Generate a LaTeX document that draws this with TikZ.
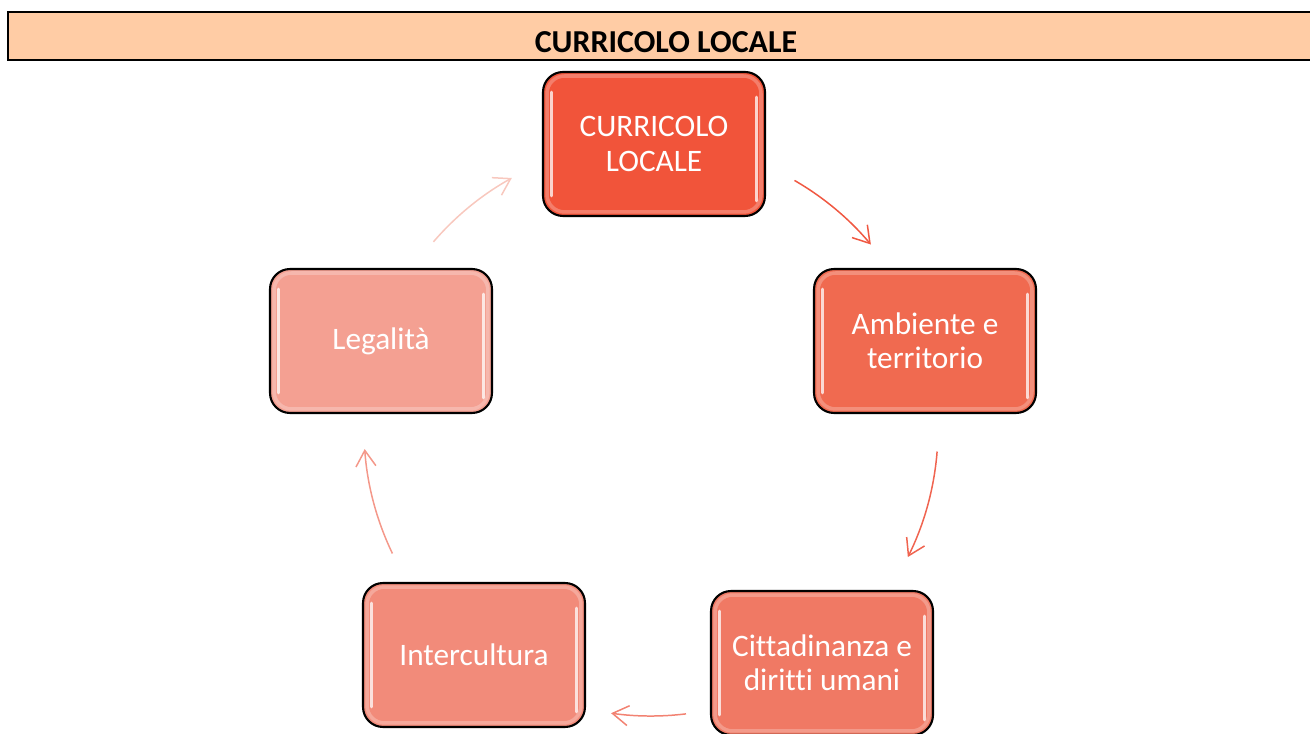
\documentclass[tikz,border=0pt]{standalone}
\usepackage{fontspec}
\setmainfont{Carlito}[Ligatures=NoCommon]
\usetikzlibrary{arrows.meta}

\definecolor{testata}{RGB}{255,204,165}
\definecolor{fase1}{RGB}{241,84,58}
\definecolor{fase2}{RGB}{240,106,80}
\definecolor{fase3}{RGB}{240,121,100}
\definecolor{fase4}{RGB}{242,139,122}
\definecolor{fase5}{RGB}{244,160,146}
\definecolor{giro1}{RGB}{240,88,66}
\definecolor{giro2}{RGB}{240,100,80}
\definecolor{giro3}{RGB}{242,130,114}
\definecolor{giro4}{RGB}{244,152,138}
\definecolor{giro5}{RGB}{248,200,190}

\begin{document}
\begin{tikzpicture}[x=0.02cm,y=0.02cm]
        \tikzstyle{fase} = [draw=black, line width=1.2pt, rounded corners=0.4cm,
            minimum width=4.44cm, minimum height=2.88cm, align=center, text=white,
            font=\fontsize{17.8}{19.5}\selectfont,
            path picture={
                \draw[white, line width=1.6pt, opacity=0.75, line cap=round]
                    ([xshift=0.17cm,yshift=-0.4cm]path picture bounding box.north west)
                    -- ([xshift=0.17cm,yshift=0.4cm]path picture bounding box.south west);
                \draw[white, line width=1.6pt, opacity=0.75, line cap=round]
                    ([xshift=-0.17cm,yshift=-0.5cm]path picture bounding box.north east)
                    -- ([xshift=-0.17cm,yshift=0.3cm]path picture bounding box.south east);
                \draw[white, line width=2pt, opacity=0.25, rounded corners=0.35cm]
                    ([xshift=0.08cm,yshift=-0.08cm]path picture bounding box.north west)
                    rectangle ([xshift=-0.08cm,yshift=0.08cm]path picture bounding box.south east);
            }]
        \tikzstyle{giro} = [line width=0.85pt, -{Straight Barb[length=3.2mm,width=4mm]}]

        \useasboundingbox (0,0) rectangle (1310,733);

		% titolo
		\draw[fill=testata, draw=black, line width=1.2pt] (8,721) rectangle (1325,673);
		\node[anchor=base, font=\bfseries\fontsize{18.2}{20}\selectfont] (titolo) at (666,680) {CURRICOLO LOCALE};

		% fasi
		\node[fase, fill=fase1] (curricolo) at (654,589) {CURRICOLO\\LOCALE};
		\node[fase, fill=fase2] (ambiente) at (925,392) {Ambiente e\\territorio};
		\node[fase, fill=fase3] (cittadinanza) at (822,70) {Cittadinanza e\\diritti umani};
		\node[fase, fill=fase4] (intercultura) at (474,78) {Intercultura};
		\node[fase, fill=fase5] (legalita) at (381,392) {Legalità};

		% frecce del ciclo
		\coordinate (centro) at (651,304);
		\coordinate (g1) at ([shift={(60:287)}]centro);
		\coordinate (g2) at ([shift={(-4.5:287)}]centro);
		\coordinate (g3) at ([shift={(-83:287)}]centro);
		\coordinate (g4) at ([shift={(205.7:287)}]centro);
		\coordinate (g5) at ([shift={(139.3:287)}]centro);
		\draw[giro, draw=giro1] (g1) arc[start angle=60, end angle=40, radius=287];
		\draw[giro, draw=giro2] (g2) arc[start angle=-4.5, end angle=-26.5, radius=287];
		\draw[giro, draw=giro3] (g3) arc[start angle=-83, end angle=-98, radius=287];
		\draw[giro, draw=giro4] (g4) arc[start angle=205.7, end angle=184, radius=287];
		\draw[giro, draw=giro5] (g5) arc[start angle=139.3, end angle=119, radius=287];

    \end{tikzpicture}
\end{document}
